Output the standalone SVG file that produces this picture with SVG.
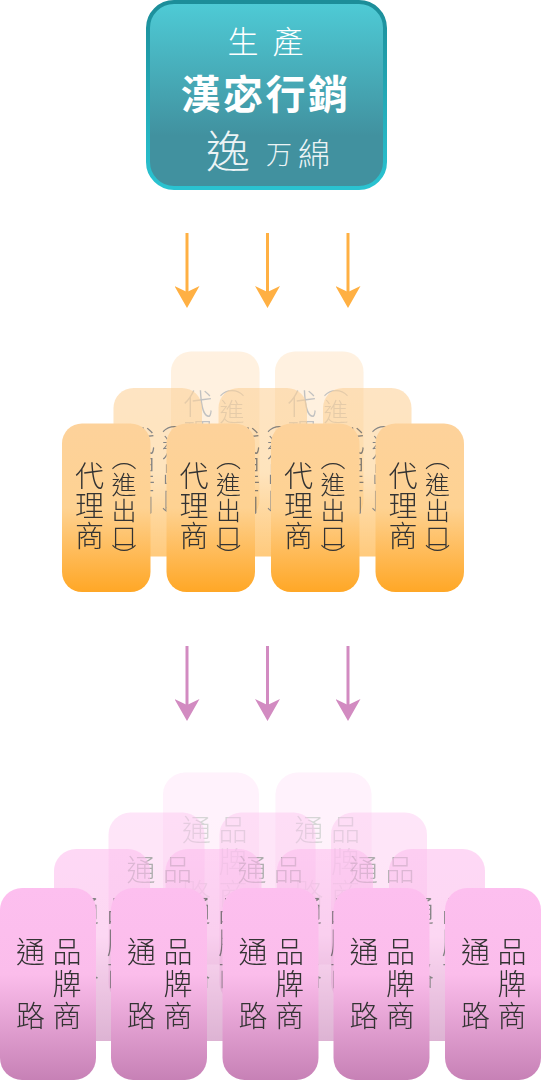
<svg xmlns="http://www.w3.org/2000/svg" width="542" height="1080" viewBox="0 0 542 1080">
<style>
text{font-family:"Noto Sans CJK TC","Noto Sans CJK SC",sans-serif}
.v{writing-mode:vertical-rl;text-orientation:upright;fill:#333;font-weight:300}
.o1{font-size:29px}.o2{font-size:25px}.p{font-size:29px}
.w{fill:#fff;text-anchor:middle}
.ar1{stroke:#ffb043;stroke-width:3;marker-end:url(#mo)}
.ar2{stroke:#d28bc1;stroke-width:3;marker-end:url(#mp)}
.oc{fill:url(#go)}.pc{fill:url(#gp)}
</style>
<defs>
<linearGradient id="gt" x1="0" y1="0" x2="0" y2="1"><stop offset="0" stop-color="#4ecbd6"/><stop offset="0.72" stop-color="#41919f"/><stop offset="1" stop-color="#41919f"/></linearGradient>
<linearGradient id="gs" x1="0" y1="0" x2="0" y2="1"><stop offset="0" stop-color="#1c8d99"/><stop offset="1" stop-color="#2ac3d1"/></linearGradient>
<linearGradient id="go" x1="0" y1="0" x2="0" y2="1"><stop offset="0" stop-color="#fdd29b"/><stop offset="0.5" stop-color="#fed292"/><stop offset="1" stop-color="#ffa726"/></linearGradient>
<linearGradient id="gp" x1="0" y1="0" x2="0" y2="1"><stop offset="0" stop-color="#fdbfef"/><stop offset="0.45" stop-color="#fbbdeb"/><stop offset="1" stop-color="#c781b6"/></linearGradient>
<marker id="mo" viewBox="0 0 22 25" refX="10" refY="12.5" markerWidth="22" markerHeight="25" markerUnits="userSpaceOnUse" orient="auto"><path d="M0 0L22 12.5L0 25L6 12.5Z" fill="#ffb043"/></marker>
<marker id="mp" viewBox="0 0 22 25" refX="10" refY="12.5" markerWidth="22" markerHeight="25" markerUnits="userSpaceOnUse" orient="auto"><path d="M0 0L22 12.5L0 25L6 12.5Z" fill="#d28bc1"/></marker>
</defs>
<rect width="542" height="1080" fill="#fff"/>
<g id="producer">
<rect x="148" y="2" width="237" height="186" rx="26" fill="url(#gt)" stroke="url(#gs)" stroke-width="4"/>
<text class="w" x="243" y="53" font-size="31" font-weight="300">生</text><text class="w" x="288" y="53" font-size="31" font-weight="300">產</text>
<text class="w" x="265.500" y="109" font-size="40" font-weight="700" letter-spacing="2.500">漢宓行銷</text>
<text class="w" x="228" y="168" font-size="44" font-weight="300" opacity="0.9">逸</text><text class="w" x="279" y="164" font-size="26" font-weight="300" opacity="0.9">万</text><text class="w" x="314" y="166" font-size="32" font-weight="300" opacity="0.9">綿</text>
</g>
<g id="connectors">
<line class="ar1" x1="187" y1="233" x2="187" y2="296"/><line class="ar1" x1="267.500" y1="233" x2="267.500" y2="296"/><line class="ar1" x1="348" y1="233" x2="348" y2="296"/>
<line class="ar2" x1="187" y1="646" x2="187" y2="709"/><line class="ar2" x1="267.500" y1="646" x2="267.500" y2="709"/><line class="ar2" x1="348" y1="646" x2="348" y2="709"/>
</g>
<g id="cards" opacity="0.999">
<g id="agent-r3-1" opacity="0.3" transform="translate(171 351.500)"><rect class="oc" width="88.500" height="168.500" rx="20"/><text class="v o1" x="27" y="38 68 98">代理商</text><text class="v o2" x="61" y="20 47 73 99 119">（進出口）</text></g>
<g id="agent-r3-2" opacity="0.3" transform="translate(275 351.500)"><rect class="oc" width="88.500" height="168.500" rx="20"/><text class="v o1" x="27" y="38 68 98">代理商</text><text class="v o2" x="61" y="20 47 73 99 119">（進出口）</text></g>
<g id="agent-r2-1" opacity="0.6" transform="translate(113.500 388)"><rect class="oc" width="88.500" height="168.500" rx="20"/><text class="v o1" x="27" y="38 68 98">代理商</text><text class="v o2" x="61" y="20 47 73 99 119">（進出口）</text></g>
<g id="agent-r2-2" opacity="0.6" transform="translate(218.500 388)"><rect class="oc" width="88.500" height="168.500" rx="20"/><text class="v o1" x="27" y="38 68 98">代理商</text><text class="v o2" x="61" y="20 47 73 99 119">（進出口）</text></g>
<g id="agent-r2-3" opacity="0.6" transform="translate(323 388)"><rect class="oc" width="88.500" height="168.500" rx="20"/><text class="v o1" x="27" y="38 68 98">代理商</text><text class="v o2" x="61" y="20 47 73 99 119">（進出口）</text></g>
<g id="agent-1" transform="translate(62 423.500)"><rect class="oc" width="88.500" height="168.500" rx="20"/><text class="v o1" x="27.500" y="38 68 98">代理商</text><text class="v o2" x="62" y="21 48 74 100 120">（進出口）</text></g>
<g id="agent-2" transform="translate(166.500 423.500)"><rect class="oc" width="88.500" height="168.500" rx="20"/><text class="v o1" x="27.500" y="38 68 98">代理商</text><text class="v o2" x="62" y="21 48 74 100 120">（進出口）</text></g>
<g id="agent-3" transform="translate(271 423.500)"><rect class="oc" width="88.500" height="168.500" rx="20"/><text class="v o1" x="27.500" y="38 68 98">代理商</text><text class="v o2" x="62" y="21 48 74 100 120">（進出口）</text></g>
<g id="agent-4" transform="translate(375.500 423.500)"><rect class="oc" width="88.500" height="168.500" rx="20"/><text class="v o1" x="27.500" y="38 68 98">代理商</text><text class="v o2" x="62" y="21 48 74 100 120">（進出口）</text></g>
<g id="brand-r4-1" opacity="0.2" transform="translate(163 772.500)"><rect class="pc" width="96" height="192" rx="22"/><text class="v p" x="33.500" y="43 107">通路</text><text class="v p" x="70" y="43 75 107">品牌商</text></g>
<g id="brand-r4-2" opacity="0.2" transform="translate(275.500 772.500)"><rect class="pc" width="96" height="192" rx="22"/><text class="v p" x="33.500" y="43 107">通路</text><text class="v p" x="70" y="43 75 107">品牌商</text></g>
<g id="brand-r3-1" opacity="0.4" transform="translate(108.500 812.500)"><rect class="pc" width="96" height="192" rx="22"/><text class="v p" x="32.500" y="43 107">通路</text><text class="v p" x="69" y="43 75 107">品牌商</text></g>
<g id="brand-r3-2" opacity="0.4" transform="translate(219.500 812.500)"><rect class="pc" width="96" height="192" rx="22"/><text class="v p" x="32.500" y="43 107">通路</text><text class="v p" x="69" y="43 75 107">品牌商</text></g>
<g id="brand-r3-3" opacity="0.4" transform="translate(331 812.500)"><rect class="pc" width="96" height="192" rx="22"/><text class="v p" x="32.500" y="43 107">通路</text><text class="v p" x="69" y="43 75 107">品牌商</text></g>
<g id="brand-r2-1" opacity="0.6" transform="translate(54 849)"><rect class="pc" width="96" height="192" rx="22"/><text class="v p" x="30.500" y="47 111">通路</text><text class="v p" x="67" y="47 79 111">品牌商</text></g>
<g id="brand-r2-2" opacity="0.6" transform="translate(165.500 849)"><rect class="pc" width="96" height="192" rx="22"/><text class="v p" x="30.500" y="47 111">通路</text><text class="v p" x="67" y="47 79 111">品牌商</text></g>
<g id="brand-r2-3" opacity="0.6" transform="translate(277 849)"><rect class="pc" width="96" height="192" rx="22"/><text class="v p" x="30.500" y="47 111">通路</text><text class="v p" x="67" y="47 79 111">品牌商</text></g>
<g id="brand-r2-4" opacity="0.6" transform="translate(389 849)"><rect class="pc" width="96" height="192" rx="22"/><text class="v p" x="30.500" y="47 111">通路</text><text class="v p" x="67" y="47 79 111">品牌商</text></g>
<g id="brand-1" transform="translate(0 888)"><rect class="pc" width="96" height="192" rx="22"/><text class="v p" x="30.500" y="49 113">通路</text><text class="v p" x="67" y="49 81 113">品牌商</text></g>
<g id="brand-2" transform="translate(111 888)"><rect class="pc" width="96" height="192" rx="22"/><text class="v p" x="30.500" y="49 113">通路</text><text class="v p" x="67" y="49 81 113">品牌商</text></g>
<g id="brand-3" transform="translate(222.500 888)"><rect class="pc" width="96" height="192" rx="22"/><text class="v p" x="30.500" y="49 113">通路</text><text class="v p" x="67" y="49 81 113">品牌商</text></g>
<g id="brand-4" transform="translate(333.500 888)"><rect class="pc" width="96" height="192" rx="22"/><text class="v p" x="30.500" y="49 113">通路</text><text class="v p" x="67" y="49 81 113">品牌商</text></g>
<g id="brand-5" transform="translate(445 888)"><rect class="pc" width="96" height="192" rx="22"/><text class="v p" x="30.500" y="49 113">通路</text><text class="v p" x="67" y="49 81 113">品牌商</text></g>
</g>
</svg>
